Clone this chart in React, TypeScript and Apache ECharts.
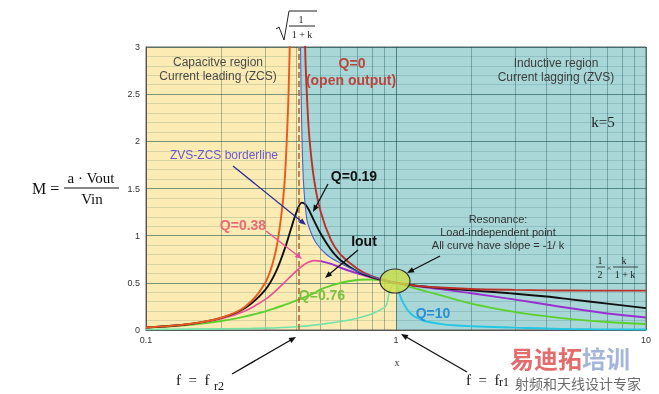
import React, { useEffect, useRef } from "react";
import * as echarts from "echarts";

// ---------- data ----------
const xGrid = [0.1, 0.15, 0.2, 0.25, 0.3, 0.33, 0.36, 0.38, 0.4, 0.42, 0.44, 0.47, 0.5, 0.55, 0.6, 0.7, 0.8, 0.9, 0.95, 1, 1.2, 1.5, 2, 3, 4, 5, 7, 10];
const q019Y = [0.026, 0.064, 0.128, 0.236, 0.426, 0.61, 0.87, 1.07, 1.25, 1.35, 1.31, 1.16, 1.02, 0.85, 0.74, 0.62, 0.56, 0.525, 0.511, 0.5, 0.47, 0.445, 0.42, 0.385, 0.355, 0.325, 0.28, 0.232];
const q076Y = [0.025, 0.055, 0.095, 0.144, 0.198, 0.233, 0.268, 0.29, 0.313, 0.335, 0.356, 0.39, 0.43, 0.47, 0.5, 0.53, 0.535, 0.52, 0.51, 0.5, 0.44, 0.37, 0.28, 0.19, 0.145, 0.115, 0.085, 0.064];

const q0LeftX = [0.1, 0.15, 0.2, 0.25, 0.3, 0.33, 0.35, 0.36, 0.37, 0.375, 0.38];
const q0LeftY = [0.027, 0.065, 0.13, 0.25, 0.5, 0.83, 1.28, 1.65, 2.35, 2.9, 3.6];
const q0RightX = [0.425, 0.433, 0.44, 0.45, 0.47, 0.5, 0.55, 0.6, 0.7, 0.8, 0.9, 1, 1.2, 1.5, 2, 3, 4, 5, 7, 10];
const q0RightY = [4.5, 3.0, 2.5, 2.05, 1.6, 1.25, 0.95, 0.8, 0.65, 0.57, 0.53, 0.5, 0.47, 0.45, 0.435, 0.425, 0.42, 0.418, 0.417, 0.417];

const q038LeftX = [0.1, 0.15, 0.2, 0.25, 0.3, 0.33, 0.36, 0.38, 0.4, 0.42, 0.44, 0.47, 0.5];
const q038LeftY = [0.026, 0.062, 0.119, 0.204, 0.325, 0.414, 0.51, 0.571, 0.628, 0.675, 0.71, 0.735, 0.73];
const q038RightX = [0.5, 0.55, 0.6, 0.7, 0.8, 0.9, 0.95, 1, 1.2, 1.5, 2, 3, 4, 5, 7, 10];
const q038RightY = [0.73, 0.7, 0.66, 0.6, 0.555, 0.523, 0.511, 0.5, 0.467, 0.433, 0.39, 0.322, 0.27, 0.23, 0.175, 0.133];

const q10LeftX = [0.1, 0.2, 0.3, 0.4, 0.5, 0.6, 0.7, 0.8, 0.86, 0.9, 0.92, 0.94, 0.97, 1];
const q10LeftY = [0.005, 0.012, 0.02, 0.035, 0.06, 0.09, 0.125, 0.17, 0.21, 0.24, 0.28, 0.4, 0.48, 0.5];
const q10RightX = [1, 1.02, 1.05, 1.1, 1.15, 1.2, 1.3, 1.5, 1.75, 2, 3, 5, 10];
const q10RightY = [0.5, 0.43, 0.33, 0.23, 0.17, 0.135, 0.095, 0.065, 0.047, 0.04, 0.025, 0.01, 0.005];

const borderX = [0.415, 0.418, 0.422, 0.428, 0.44, 0.453, 0.48, 0.53, 0.6, 0.7, 0.81, 0.9, 1];
const borderY = [3, 2.4, 1.9, 1.5, 1.17, 1.06, 0.92, 0.795, 0.707, 0.62, 0.565, 0.525, 0.5];

const fr2 = 0.408;
const minorX = [0.2, 0.3, 0.4, 0.5, 0.6, 0.7, 0.8, 0.9, 2, 3, 4, 5, 6, 7, 8, 9];
const xMin = 0.1;
const xMax = 10;
const yMax = 3;

// ---------- helpers ----------
const SANS = "'Liberation Sans', Arial, sans-serif";
const SERIF = "'Liberation Serif', 'Times New Roman', serif";
const CJK = "'Noto Sans CJK SC', sans-serif";

const pairs = (xs: number[], ys: number[]) => xs.map((x, i) => [x, ys[i]]);

const curve = (name: string, data: number[][], color: string, width = 1.9, z = 3) => ({
  type: "line",
  name,
  data,
  smooth: 0.35,
  symbol: "none",
  silent: true,
  z,
  lineStyle: { color, width },
});

function txt(x: number, y: number, text: string, fill: string, fontSize: number, opts: any = {}) {
  return {
    type: "text",
    z: 100,
    silent: true,
    style: {
      x,
      y,
      text,
      fill,
      fontSize,
      fontFamily: opts.fontFamily || SANS,
      fontWeight: opts.fontWeight || "normal",
      textAlign: opts.align || "center",
      textVerticalAlign: "middle",
    },
  };
}
function seg(x1: number, y1: number, x2: number, y2: number, stroke: string, lineWidth = 1) {
  return { type: "line", z: 100, silent: true, shape: { x1, y1, x2, y2 }, style: { stroke, lineWidth } };
}
function arrow(x1: number, y1: number, x2: number, y2: number, color: string, lw = 1.3, head = 7) {
  const dx = x2 - x1;
  const dy = y2 - y1;
  const L = Math.hypot(dx, dy);
  const ux = dx / L;
  const uy = dy / L;
  const bx = x2 - ux * head;
  const by = y2 - uy * head;
  const px = -uy * head * 0.4;
  const py = ux * head * 0.4;
  return [
    seg(x1, y1, bx + ux, by + uy, color, lw),
    {
      type: "polygon",
      z: 100,
      silent: true,
      shape: { points: [[x2, y2], [bx + px, by + py], [bx - px, by - py]] },
      style: { fill: color },
    },
  ];
}

export default function App() {
  const ref = useRef<HTMLDivElement>(null);

  useEffect(() => {
    if (!ref.current) return;
    const chart = echarts.init(ref.current, null, { renderer: "svg" });

    const graphics: any[] = [
      // sqrt(1/(1+k)) on top
      { type: "polyline", z: 100, silent: true, shape: { points: [[276, 29], [279, 27], [284, 40], [289, 11], [317, 11]] }, style: { stroke: "#222", lineWidth: 1, fill: null } },
      txt(301, 19, "1", "#222", 10, { fontFamily: SERIF }),
      seg(289, 26, 315, 26, "#222", 1),
      txt(302, 34, "1 + k", "#222", 10, { fontFamily: SERIF }),
      // M = a·Vout / Vin
      txt(32, 188, "M =", "#111", 16, { fontFamily: SERIF, align: "left" }),
      txt(91, 178, "a · Vout", "#111", 15, { fontFamily: SERIF }),
      seg(64, 188, 119, 188, "#111", 1),
      txt(92, 199, "Vin", "#111", 15, { fontFamily: SERIF }),
      // region labels
      txt(218, 62, "Capacitve region", "#4a4a4a", 12),
      txt(218, 76, "Current leading (ZCS)", "#4a4a4a", 12),
      txt(352, 63, "Q=0", "#b8463c", 14, { fontWeight: "bold" }),
      txt(351, 80, "(open output)", "#b8463c", 14, { fontWeight: "bold" }),
      txt(556, 63, "Inductive region", "#3d3d3d", 12),
      txt(556, 77, "Current lagging (ZVS)", "#3d3d3d", 12),
      txt(603, 122, "k=5", "#222", 15, { fontFamily: SERIF }),
      // curve labels
      txt(224, 155, "ZVS-ZCS borderline", "#6a5ac8", 12),
      ...arrow(233, 166, 306, 225, "#2a2a9a"),
      txt(354, 176, "Q=0.19", "#111", 14, { fontWeight: "bold" }),
      ...arrow(328, 184, 313, 212, "#111"),
      txt(243, 225, "Q=0.38", "#ec6a74", 14, { fontWeight: "bold" }),
      ...arrow(266, 231, 302, 259, "#e8509a"),
      txt(364, 241, "Iout", "#111", 14, { fontWeight: "bold" }),
      ...arrow(358, 250, 325, 278, "#111"),
      txt(322, 295, "Q=0.76", "#7cc142", 14, { fontWeight: "bold" }),
      txt(433, 313, "Q=10", "#2a8fd4", 14, { fontWeight: "bold" }),
      txt(498, 219, "Resonance:", "#333", 11),
      txt(498, 232, "Load-independent point", "#333", 11),
      txt(498, 245, "All curve have slope = -1/ k", "#333", 11),
      ...arrow(440, 256, 407, 273, "#111"),
      { type: "ellipse", z: 90, silent: true, shape: { cx: 395, cy: 281, rx: 15, ry: 12 }, style: { fill: "rgba(205,222,70,0.8)", stroke: "#333", lineWidth: 1.2 } },
      // 1/2 x k/(1+k)
      txt(600, 260, "1", "#222", 10, { fontFamily: SERIF }),
      seg(596, 267, 605, 267, "#222", 0.8),
      txt(600, 274, "2", "#222", 10, { fontFamily: SERIF }),
      txt(609, 268, "×", "#444", 9, { fontFamily: SERIF }),
      txt(624, 260, "k", "#222", 10, { fontFamily: SERIF }),
      seg(613, 267, 638, 267, "#222", 0.8),
      txt(625, 274, "1 + k", "#222", 10, { fontFamily: SERIF }),
      // x axis name
      txt(397, 362, "x", "#333", 10, { fontFamily: SERIF }),
      // f = f r2 / f r1
      txt(176, 380, "f  =  f", "#111", 15, { fontFamily: SERIF, align: "left" }),
      txt(214, 386, "r2", "#111", 12, { fontFamily: SERIF, align: "left" }),
      ...arrow(232, 374, 296, 337, "#111"),
      txt(466, 380, "f  =  f", "#111", 15, { fontFamily: SERIF, align: "left" }),
      txt(499, 382, "r1", "#111", 12, { fontFamily: SERIF, align: "left" }),
      ...arrow(467, 372, 401, 334, "#111"),
      // watermark
      txt(510, 357, "易迪拓", "#e36c6c", 24, { fontFamily: CJK, fontWeight: "bold", align: "left" }),
      txt(582, 357, "培训", "#a3b6da", 24, { fontFamily: CJK, fontWeight: "bold", align: "left" }),
      txt(515, 383, "射频和天线设计专家", "#6b6b6b", 14, { fontFamily: CJK, align: "left" }),
    ];

    const option: any = {
      animation: false,
      grid: { left: 146, right: 13, top: 47, bottom: 64, show: true, borderColor: "#666", borderWidth: 1, backgroundColor: "transparent" },
      xAxis: {
        type: "log",
        logBase: 10,
        min: xMin,
        max: xMax,
        axisLine: { show: true, lineStyle: { color: "#555" } },
        axisTick: { show: false },
        axisLabel: { color: "#333", fontSize: 9, margin: 5, fontFamily: SANS },
        splitLine: { show: true, lineStyle: { color: "rgba(0,60,60,0.55)", width: 1 } },
      },
      yAxis: {
        type: "value",
        min: 0,
        max: yMax,
        interval: 0.5,
        axisLine: { show: true, lineStyle: { color: "#555" } },
        axisTick: { show: false },
        axisLabel: { color: "#333", fontSize: 9, margin: 6, fontFamily: SANS },
        splitLine: { show: true, lineStyle: { color: "rgba(0,60,60,0.5)", width: 1 } },
        minorTick: { show: false, splitNumber: 5 },
        minorSplitLine: { show: true, lineStyle: { color: "rgba(0,70,70,0.14)", width: 1 } },
      },
      graphic: graphics,
      series: [
        {
          type: "line",
          name: "inductive",
          data: [[xMin, yMax], [xMax, yMax]],
          symbol: "none",
          silent: true,
          z: -2,
          lineStyle: { width: 0 },
          areaStyle: { color: "#a9d7d8", opacity: 1 },
          markLine: {
            silent: true,
            z: 0,
            symbol: ["none", "none"],
            label: { show: false },
            lineStyle: { color: "rgba(0,60,60,0.32)", width: 1, type: "solid" },
            data: minorX.map((v) => ({ xAxis: v })),
          },
        },
        {
          type: "line",
          name: "capacitive",
          data: [[xMin, yMax], ...pairs(borderX, borderY)],
          smooth: 0.35,
          symbol: "none",
          silent: true,
          z: -1,
          lineStyle: { width: 0 },
          areaStyle: { color: "#fcebb3", opacity: 1 },
        },
        curve("Q=10 low", pairs(q10LeftX, q10LeftY), "#72e2a8", 1.6),
        curve("Q=10 high", pairs(q10RightX, q10RightY), "#25c6e2", 1.9),
        curve("Q=0.76", pairs(xGrid, q076Y), "#5cd12e", 1.9),
        curve("Q=0.38 low", pairs(q038LeftX, q038LeftY), "#ea4f96", 1.7),
        curve("Q=0.38 high", pairs(q038RightX, q038RightY), "#9b30d0", 1.9),
        curve("ZVS-ZCS borderline", pairs(borderX, borderY), "#4a62d4", 1.1, 4),
        curve("Q=0.19", pairs(xGrid, q019Y), "#111111", 1.9),
        curve("Q=0 low", pairs(q0LeftX, q0LeftY), "#e85a20", 1.9),
        curve("Q=0 high", pairs(q0RightX, q0RightY), "#b83228", 1.9),
        {
          type: "line",
          name: "fr2",
          data: [],
          symbol: "none",
          silent: true,
          z: 5,
          markLine: {
            silent: true,
            z: 5,
            symbol: ["none", "none"],
            label: { show: false },
            lineStyle: { color: "#b5602a", width: 1.5, type: "dashed" },
            data: [{ xAxis: fr2 }],
          },
        },
      ],
    };

    chart.setOption(option);
    return () => chart.dispose();
  }, []);

  return <div ref={ref} style={{ position: "fixed", left: 0, top: 0, width: 659, height: 394 }} />;
}
